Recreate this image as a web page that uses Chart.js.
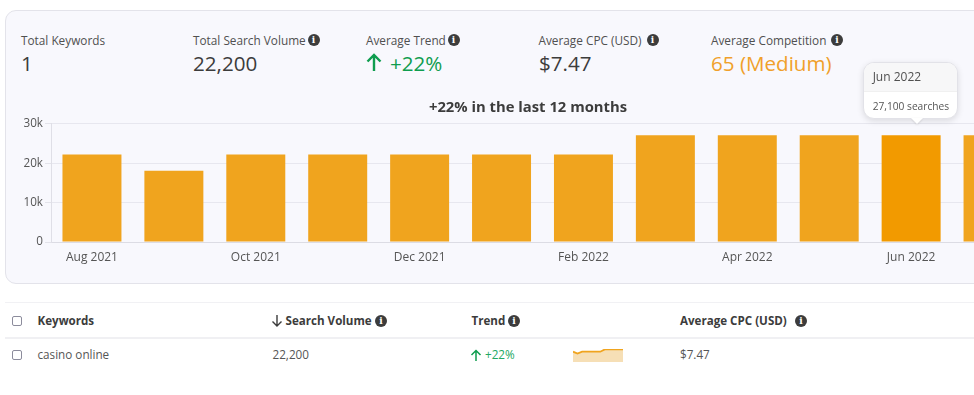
<!DOCTYPE html>
<html><head><meta charset="utf-8">
<script src="https://cdn.jsdelivr.net/npm/chart.js@4"></script>
<style>
html,body{margin:0;padding:0;width:974px;height:395px;overflow:hidden;background:#fff;font-family:"Open Sans",sans-serif;color:#4a4a4a}
#page{position:relative;width:974px;height:395px;overflow:hidden}
.a{position:absolute;white-space:nowrap;line-height:1}
#card{position:absolute;left:5px;top:10px;width:1020px;height:272px;background:#f8f8fd;border:1px solid #e3e3ea;border-radius:11px}
.lab{font-size:11.8px;color:#505050}
.val{font-size:20.6px;color:#3c3c3c}
.th{font-size:11.6px;font-weight:700;color:#3c3c3c}
.td{font-size:11.7px;color:#555}
.line{position:absolute;left:5px;width:969px;height:1px}
.cb{position:absolute;left:12px;width:8px;height:8px;border:1.5px solid #8c8c9c;border-radius:2px;background:#fff}
.i{position:absolute;width:12px;height:12px;border-radius:50%;background:#3c3c3c;color:#fff;font:700 9px/12px "DejaVu Serif",serif;text-align:center}
#chartBox{position:absolute;left:0;top:91px;width:1056px;height:180px}
#spark{position:absolute;left:573px;top:349px;width:50px;height:13px}
#tip{position:absolute;width:95px;height:57px;background:#fff;border:1px solid #e2e2e8;border-radius:11px;box-shadow:0 2px 6px rgba(0,0,0,.12);box-sizing:border-box}
#tip .h{height:28px;background:#f7f7f8;border-radius:10px 10px 0 0;border-bottom:1px solid #f0f0f0;font-size:12px;line-height:28px;padding-left:8.5px;color:#505050}
#tip .b{font-size:10.2px;line-height:28px;padding-left:8.5px;color:#555}
#arrow{position:absolute;width:0;height:0;border-left:6px solid transparent;border-right:6px solid transparent;border-top:6px solid #fff;filter:drop-shadow(0 1px 1px rgba(0,0,0,.12))}
</style></head>
<body><div id="page">
<div id="card"></div>

<div class="a lab" style="left:21px;top:34.500px">Total Keywords</div>
<div class="a val" style="left:21px;top:52.500px">1</div>
<div class="a lab" style="left:193px;top:34.500px">Total Search Volume</div><div class="i" style="left:307.500px;top:34px">i</div>
<div class="a val" style="left:193px;top:52.500px">22,200</div>
<div class="a lab" style="left:366px;top:34.500px">Average Trend</div><div class="i" style="left:447.500px;top:34px">i</div>
<svg class="a" style="left:365px;top:52px" width="18" height="20" viewBox="0 0 18 20"><path d="M9 19V3M2.500 9.500L9 3l6.500 6.500" fill="none" stroke="#0f9d4f" stroke-width="2.400"/></svg>
<div class="a val" style="left:390px;top:52.500px;color:#0f9d4f">+22%</div>
<div class="a lab" style="left:538.500px;top:34.500px">Average CPC (USD)</div><div class="i" style="left:646.500px;top:34px">i</div>
<div class="a val" style="left:539px;top:52.500px">$7.47</div>
<div class="a lab" style="left:711px;top:34.500px">Average Competition</div><div class="i" style="left:831px;top:34px">i</div>
<div class="a val" style="left:711px;top:52.500px;color:#f0a02a">65 (Medium)</div>

<div id="chartBox"><canvas id="main"></canvas></div>

<div id="tip"><div class="h" id="tipTitle"></div><div class="b" id="tipBody"></div></div>
<div id="arrow"></div>

<div class="line" style="top:302px;background:#f1f1f4"></div>
<div class="line" style="top:336.500px;height:2px;background:#f0f0f3"></div>
<div class="cb" style="top:315.500px"></div>
<div class="a th" style="left:37.500px;top:314.500px">Keywords</div>
<svg class="a" style="left:271px;top:314px" width="12" height="13" viewBox="0 0 12 13"><path d="M6 1v11M1.500 7.500L6 12l4.500-4.500" fill="none" stroke="#3c3c3c" stroke-width="1.400"/></svg>
<div class="a th" style="left:285.500px;top:314.500px">Search Volume</div><div class="i" style="left:375px;top:314.500px">i</div>
<div class="a th" style="left:471.500px;top:314.500px">Trend</div><div class="i" style="left:508px;top:314.500px">i</div>
<div class="a th" style="left:680px;top:314.500px">Average CPC (USD)</div><div class="i" style="left:795px;top:314.500px">i</div>
<div class="cb" style="top:350px"></div>
<div class="a td" style="left:37.500px;top:349px">casino online</div>
<div class="a td" style="left:272.500px;top:349px">22,200</div>
<svg class="a" style="left:470px;top:349px" width="12" height="13" viewBox="0 0 12 13"><path d="M6 12V1.500M1.500 6L6 1.500 10.500 6" fill="none" stroke="#0f9d4f" stroke-width="1.500"/></svg>
<div class="a td" style="left:485px;top:349px;color:#22a862">+22%</div>
<div id="spark"><canvas id="sparkC"></canvas></div>
<div class="a td" style="left:680px;top:349px">$7.47</div>
</div>
<script>
const categories=["Aug 2021","Sep 2021","Oct 2021","Nov 2021","Dec 2021","Jan 2022","Feb 2022","Mar 2022","Apr 2022","May 2022","Jun 2022","Jul 2022"];
const searches=[22200,18100,22200,22200,22200,22200,22200,27100,27100,27100,27100,27100];
const yTicks=[0,10000,20000,30000];
const activeMonth="Jun 2022";
const chartTitle="+22% in the last 12 months";

const FONT='"Open Sans",sans-serif';
const activeIdx=categories.indexOf(activeMonth);
const tipPlugin={id:'tipPlugin',afterRender(c){
  const x=c.scales.x.getPixelForValue(activeIdx), y=c.scales.y.getPixelForValue(searches[activeIdx]);
  const box=c.canvas.parentNode, ox=box.offsetLeft, oy=box.offsetTop;
  const t=document.getElementById('tip'), a=document.getElementById('arrow');
  t.style.left=(ox+x-48)+'px'; t.style.top=(oy+y-73)+'px';
  a.style.left=(ox+x-0.5)+'px'; a.style.top=(oy+y-17)+'px';
  document.getElementById('tipTitle').textContent=activeMonth;
  document.getElementById('tipBody').textContent=searches[activeIdx].toLocaleString('en-US')+' searches';
}};
new Chart(document.getElementById('main'),{
  type:'bar',
  data:{labels:categories,datasets:[{data:searches,
    backgroundColor:categories.map((_,i)=>i===activeIdx?'#f29a00':'#f0a41e'),
    borderWidth:0,categoryPercentage:0.72,barPercentage:1}]},
  plugins:[tipPlugin],
  options:{responsive:true,maintainAspectRatio:false,animation:false,
    layout:{padding:{left:22,right:22,top:0,bottom:0}},
    plugins:{legend:{display:false},tooltip:{enabled:false},
      title:{display:true,text:chartTitle,color:'#3c3c3c',font:{family:FONT,size:14.8,weight:'700'},padding:{top:7.500,bottom:7.500}}},
    scales:{
      x:{grid:{display:false,drawTicks:false},border:{color:'#dcdce4'},
        ticks:{autoSkip:false,maxRotation:0,color:'#555',font:{family:FONT,size:12},padding:8,
          callback(v,i){return i%2===0?categories[i]:'';}},
        afterFit(s){s.height=29;}},
      y:{min:0,max:30000,
        afterBuildTicks(s){s.ticks=yTicks.map(v=>({value:v}));},
        grid:{color:'#e7e7ef',tickLength:6,tickColor:'#e3e3ea'},border:{color:'#dfdfe7'},
        ticks:{color:'#555',font:{family:FONT,size:11.7},padding:2,callback:v=>v===0?'0':(v/1000)+'k'},
        afterFit(s){s.width=29;}}
    }}
});
new Chart(document.getElementById('sparkC'),{
  type:'line',
  data:{labels:categories,datasets:[{data:searches,borderColor:'#f0a41e',borderWidth:1.800,
    backgroundColor:'#f6dfb6',fill:true,pointRadius:0,tension:0}]},
  options:{responsive:true,maintainAspectRatio:false,animation:false,
    layout:{padding:0},
    plugins:{legend:{display:false},tooltip:{enabled:false}},
    scales:{x:{display:false,offset:false},y:{display:false,min:0,max:28000}}}
});
</script>
</body></html>
